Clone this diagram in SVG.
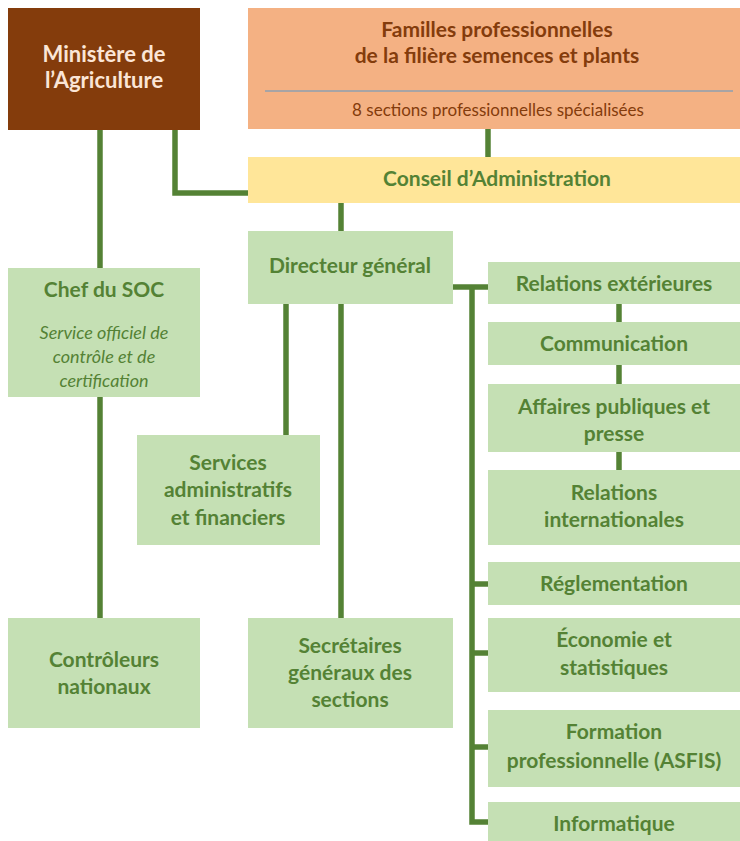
<svg xmlns="http://www.w3.org/2000/svg" width="740" height="841" viewBox="0 0 740 841">
  <style>
    text { font-family: Lato, "Open Sans", "Liberation Sans", sans-serif; text-anchor: middle; }
    .box { fill: #C5E0B4; }
    .lbl { fill: #548235; font-size: 21px; font-weight: bold; }
    .ital { fill: #548235; font-size: 18px; font-style: italic; }
    .conn { fill: none; stroke: #548235; stroke-width: 5.5; stroke-linejoin: miter; }
  </style>
  <rect width="740" height="841" fill="#ffffff"/>

  <!-- connectors -->
  <g id="connectors">
    <path class="conn" d="M100 130 V268"/>
    <path class="conn" d="M100 397 V618"/>
    <path class="conn" d="M175 130 V193 H248"/>
    <path class="conn" d="M488 129 V157"/>
    <path class="conn" d="M341 203 V231"/>
    <path class="conn" d="M286 304 V435"/>
    <path class="conn" d="M341 304 V618"/>
    <path class="conn" d="M453 287 H488"/>
    <path class="conn" d="M472 287 V822 H488"/>
    <path class="conn" d="M472 584 H488"/>
    <path class="conn" d="M472 653 H488"/>
    <path class="conn" d="M472 747 H488"/>
    <path class="conn" d="M619 304 V322"/>
    <path class="conn" d="M619 365 V384"/>
    <path class="conn" d="M619 452 V470"/>
  </g>

  <g id="ministere">
    <rect x="8" y="8" width="192" height="122" fill="#843C0C"/>
    <text x="104" y="62" font-size="22" font-weight="bold" fill="#FBE5D6">Ministère de</text>
    <text x="104" y="88" font-size="22" font-weight="bold" fill="#FBE5D6">l’Agriculture</text>
  </g>

  <g id="familles">
    <rect x="248" y="8" width="492" height="121" fill="#F4B183"/>
    <text x="497" y="37" font-size="21" font-weight="bold" fill="#843C0C">Familles professionnelles</text>
    <text x="497" y="63" font-size="21" font-weight="bold" fill="#843C0C">de la filière semences et plants</text>
    <line x1="265" y1="91" x2="733" y2="91" stroke="#8EA0B0" stroke-width="1.5"/>
    <text x="498" y="116" font-size="17" fill="#843C0C">8 sections professionnelles spécialisées</text>
  </g>

  <g id="conseil">
    <rect x="248" y="157" width="492" height="46" fill="#FFE699"/>
    <text x="497" y="186" class="lbl">Conseil d’Administration</text>
  </g>

  <g id="directeur">
    <rect class="box" x="248" y="231" width="205" height="73"/>
    <text x="350" y="273" class="lbl">Directeur général</text>
  </g>

  <g id="chef-soc">
    <rect class="box" x="8" y="268" width="192" height="129"/>
    <text x="104" y="297" class="lbl">Chef du SOC</text>
    <text x="104" y="339" class="ital">Service officiel de</text>
    <text x="104" y="363" class="ital">contrôle et de</text>
    <text x="104" y="387" class="ital">certification</text>
  </g>

  <g id="services">
    <rect class="box" x="137" y="435" width="183" height="110"/>
    <text x="228" y="470" class="lbl">Services</text>
    <text x="228" y="497" class="lbl">administratifs</text>
    <text x="228" y="525" class="lbl">et financiers</text>
  </g>

  <g id="controleurs">
    <rect class="box" x="8" y="618" width="192" height="110"/>
    <text x="104" y="667" class="lbl">Contrôleurs</text>
    <text x="104" y="694" class="lbl">nationaux</text>
  </g>

  <g id="secretaires">
    <rect class="box" x="248" y="618" width="205" height="110"/>
    <text x="350" y="653" class="lbl">Secrétaires</text>
    <text x="350" y="680" class="lbl">généraux des</text>
    <text x="350" y="707" class="lbl">sections</text>
  </g>

  <g id="relations-exterieures">
    <rect class="box" x="488" y="262" width="252" height="42"/>
    <text x="614" y="291" class="lbl">Relations extérieures</text>
  </g>

  <g id="communication">
    <rect class="box" x="488" y="322" width="252" height="43"/>
    <text x="614" y="351" class="lbl">Communication</text>
  </g>

  <g id="affaires-publiques">
    <rect class="box" x="488" y="384" width="252" height="68"/>
    <text x="614" y="414" class="lbl">Affaires publiques et</text>
    <text x="614" y="441" class="lbl">presse</text>
  </g>

  <g id="relations-internationales">
    <rect class="box" x="488" y="470" width="252" height="75"/>
    <text x="614" y="500" class="lbl">Relations</text>
    <text x="614" y="527" class="lbl">internationales</text>
  </g>

  <g id="reglementation">
    <rect class="box" x="488" y="562" width="252" height="43"/>
    <text x="614" y="591" class="lbl">Réglementation</text>
  </g>

  <g id="economie">
    <rect class="box" x="488" y="618" width="252" height="74"/>
    <text x="614" y="647" class="lbl">Économie et</text>
    <text x="614" y="675" class="lbl">statistiques</text>
  </g>

  <g id="formation">
    <rect class="box" x="488" y="710" width="252" height="77"/>
    <text x="614" y="739" class="lbl">Formation</text>
    <text x="614" y="768" class="lbl">professionnelle (ASFIS)</text>
  </g>

  <g id="informatique">
    <rect class="box" x="488" y="802" width="252" height="39"/>
    <text x="614" y="831" class="lbl">Informatique</text>
  </g>
</svg>
